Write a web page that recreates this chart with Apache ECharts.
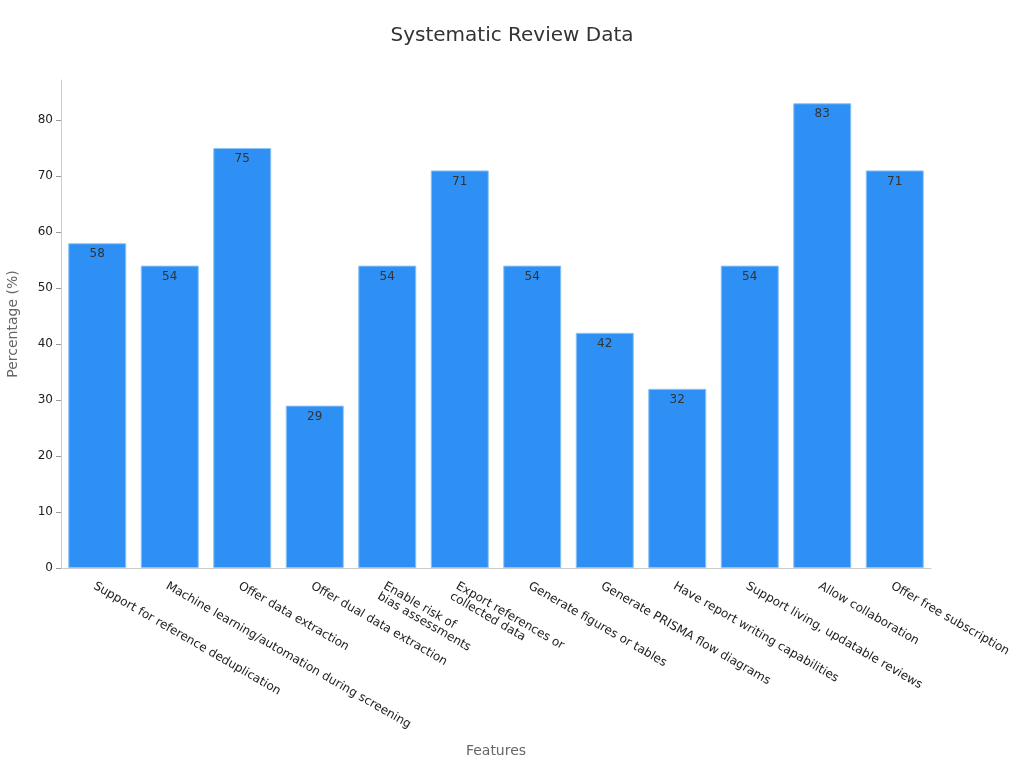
<!DOCTYPE html>
<html>
<head>
<meta charset="utf-8">
<script src="https://cdn.jsdelivr.net/npm/echarts@6/dist/echarts.min.js"></script>
<style>
    html, body { margin: 0; padding: 0; background: #fff; }
    #chart { width: 1024px; height: 768px; }
</style>
</head>
<body>
<div id="chart"></div>
<script>
// Chart data
const features = [
    'Support for reference deduplication',
    'Machine learning/automation during screening',
    'Offer data extraction',
    'Offer dual data extraction',
    'Enable risk of\nbias assessments',
    'Export references or\ncollected data',
    'Generate figures or tables',
    'Generate PRISMA flow diagrams',
    'Have report writing capabilities',
    'Support living, updatable reviews',
    'Allow collaboration',
    'Offer free subscription',
];
const percentages = [58, 54, 75, 29, 54, 71, 54, 42, 32, 54, 83, 71];
const yTicks = [0, 10, 20, 30, 40, 50, 60, 70, 80];

const fontFamily = 'DejaVu Sans, sans-serif';

const chart = echarts.init(document.getElementById('chart'));

chart.setOption({
    textStyle: { fontFamily },
    title: {
        text: 'Systematic Review Data',
        left: 'center',
        top: 21,
        textStyle: { fontFamily, fontSize: 20, fontWeight: 'normal', color: '#333' },
    },
    grid: { left: 61, right: 93, top: 80, bottom: 200, outerBoundsMode: 'none' },
    xAxis: {
        type: 'category',
        data: features,
        name: 'Features',
        nameLocation: 'middle',
        nameGap: 176,
        nameTextStyle: { fontFamily, fontSize: 14, color: '#666' },
        axisLine: { lineStyle: { color: '#ccc' } },
        axisTick: { alignWithLabel: true, lineStyle: { color: '#999' } },
        axisLabel: {
            interval: 0,
            rotate: -30,
            verticalAlign: 'top',
            fontSize: 12,
            color: '#222',
            margin: 12,
        },
    },
    yAxis: {
        type: 'value',
        min: 0,
        max: 87.15,
        name: 'Percentage (%)',
        nameLocation: 'middle',
        nameGap: 41,
        nameTextStyle: { fontFamily, fontSize: 14, color: '#666' },
        axisLine: { show: true, lineStyle: { color: '#ccc' } },
        axisTick: { show: true, customValues: yTicks, lineStyle: { color: '#999' } },
        splitLine: { show: false },
        axisLabel: { fontSize: 12, color: '#222', customValues: yTicks },
    },
    series: [{
        type: 'bar',
        data: percentages,
        barCategoryGap: '20%',
        itemStyle: { color: '#2E90F5', borderColor: '#8EC3F7', borderWidth: 1 },
        label: {
            show: true,
            position: 'insideTop',
            distance: 5,
            fontSize: 12,
            color: '#333',
        },
    }],
});
</script>
</body>
</html>
